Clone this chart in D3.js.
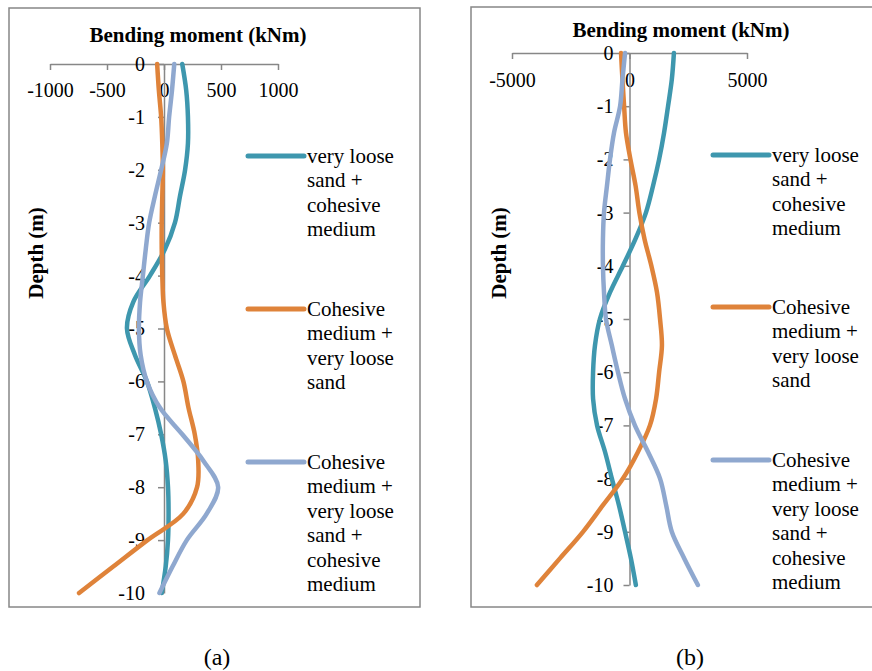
<!DOCTYPE html>
<html>
<head>
<meta charset="utf-8">
<script src="https://cdn.jsdelivr.net/npm/d3@7"></script>
<style>
  html, body { margin: 0; padding: 0; background: #fff; }
  svg { display: block; }
  text { font-family: "Liberation Serif", "Times New Roman", serif; fill: #000; }
</style>
</head>
<body>
<svg id="chart" width="872" height="671"></svg>
<script>
// ---------- DATA ----------
const depths = [0, -0.5, -1, -1.5, -2, -2.5, -3, -3.5, -4, -4.5, -5, -5.5, -6, -6.5, -7, -7.5, -8, -8.5, -9, -9.5, -10];

const seriesNames = [
  "very loose sand + cohesive medium",
  "Cohesive medium + very loose sand",
  "Cohesive medium + very loose sand + cohesive medium"
];
const legendLinesText = [
  ["very loose", "sand +", "cohesive", "medium"],
  ["Cohesive", "medium +", "very loose", "sand"],
  ["Cohesive", "medium +", "very loose", "sand +", "cohesive", "medium"]
];

// Panel (a) bending moment (kNm)
const a_vlsCm   = [160, 195, 210, 210, 185, 140, 96, 9, -123, -270, -325, -255, -150, -80, -25, 15, 35, 40, 35, 15, -20];
const a_cmVls   = [-60, -45, -25, -15, -10, -15, -20, -20, -15, -5, 25, 95, 170, 215, 270, 300, 290, 170, -145, -445, -745];
const a_cmVlsCm = [90, 70, 45, 25, -25, -80, -130, -160, -185, -210, -220, -205, -150, -35, 160, 345, 475, 375, 200, 75, -40];

// Panel (b) bending moment (kNm)
const b_vlsCm   = [1890, 1800, 1640, 1470, 1260, 1000, 700, 250, -280, -830, -1260, -1470, -1550, -1550, -1380, -1040, -750, -450, -190, 60, 270];
const b_cmVls   = [-360, -300, -230, -150, 40, 260, 420, 640, 930, 1170, 1300, 1380, 1260, 1130, 870, 360, -280, -1130, -1980, -2960, -3940];
const b_cmVlsCm = [-190, -300, -400, -660, -830, -960, -1085, -1130, -1130, -1085, -1000, -750, -490, -190, 230, 790, 1300, 1560, 1800, 2330, 2910];

const a_xTicks = [-1000, -500, 0, 500, 1000];
const b_xTicks = [-5000, 0, 5000];
const yTicks = [0, -1, -2, -3, -4, -5, -6, -7, -8, -9, -10];

const xTitle = "Bending moment (kNm)";
const yTitle = "Depth (m)";
const captions = ["(a)", "(b)"];

const colors = ["#3E97AE", "#DF833A", "#8FA8CF"];
const axisColor = "#878787";

// ---------- DRAW ----------
const svg = d3.select("#chart");
const fmt = d => String(d); // plain hyphen-minus like the original

function drawPanel(p) {
  const g = svg.append("g");
  // frame
  g.append("rect")
    .attr("x", p.frame[0]).attr("y", p.frame[1])
    .attr("width", p.frame[2]).attr("height", p.frame[3])
    .attr("fill", "#fff").attr("stroke", axisColor).attr("stroke-width", 1.5);

  const x = d3.scaleLinear().domain(p.xDomain).range(p.xRange);
  const y = d3.scaleLinear().domain([0, -10]).range(p.yRange);

  // x axis (at depth 0)
  const xa = g.append("g")
    .attr("transform", `translate(0,${y(0)})`)
    .call(d3.axisBottom(x).tickValues(p.xTicks).tickSize(6).tickSizeOuter(0).tickPadding(p.xPad)
      .tickFormat(fmt));
  xa.attr("font-family", null);
  xa.select(".domain").attr("stroke", axisColor).attr("stroke-width", 1.5);
  xa.selectAll(".tick line").attr("stroke", axisColor).attr("stroke-width", 1.5);
  xa.selectAll(".tick text").style("font-size", "20px").attr("fill", "#000");

  // y axis (at moment 0)
  const ya = g.append("g")
    .attr("transform", `translate(${x(0)},0)`)
    .call(d3.axisLeft(y).tickValues(yTicks).tickSize(6).tickSizeOuter(0).tickPadding(p.yPad)
      .tickFormat(fmt));
  ya.attr("font-family", null);
  ya.select(".domain").attr("stroke", axisColor).attr("stroke-width", 1.5);
  ya.selectAll(".tick line").attr("stroke", axisColor).attr("stroke-width", 1.5);
  ya.selectAll(".tick text").style("font-size", "20px").attr("fill", "#000");

  // titles
  g.append("text")
    .attr("x", p.titleX).attr("y", p.titleY)
    .attr("text-anchor", "middle")
    .style("font-size", "21px").style("font-weight", "bold")
    .text(xTitle);
  g.append("text")
    .attr("transform", `translate(${p.yTitleX},${p.yTitleY}) rotate(-90)`)
    .attr("text-anchor", "middle")
    .style("font-size", "21px").style("font-weight", "bold")
    .text(yTitle);

  // series lines
  const line = d3.line()
    .x(d => x(d[0]))
    .y(d => y(d[1]))
    .curve(d3.curveCatmullRom.alpha(0.5));
  p.series.forEach((vals, i) => {
    const pts = vals.map((v, k) => [v, depths[k]]);
    g.append("path")
      .datum(pts)
      .attr("d", line)
      .attr("fill", "none")
      .attr("stroke", colors[i])
      .attr("stroke-width", 4.5)
      .attr("stroke-linecap", "round")
      .attr("stroke-linejoin", "round");
  });

  // legend
  p.legendY.forEach((ly, i) => {
    g.append("line")
      .attr("x1", p.legendX).attr("x2", p.legendX + 56)
      .attr("y1", ly).attr("y2", ly)
      .attr("stroke", colors[i]).attr("stroke-width", 5).attr("stroke-linecap", "round");
    const t = g.append("text")
      .attr("x", p.legendX + 59).attr("y", ly + 6.5)
      .style("font-size", "21px");
    legendLinesText[i].forEach((s, j) => {
      t.append("tspan").attr("x", p.legendX + 59).attr("dy", j === 0 ? 0 : 24.5).text(s);
    });
  });

  // caption
  svg.append("text")
    .attr("x", p.captionX).attr("y", 665)
    .attr("text-anchor", "middle")
    .style("font-size", "24px")
    .text(p.caption);
}

drawPanel({
  frame: [9, 8, 411, 599],
  xDomain: [-1000, 1000], xRange: [50, 278],
  yRange: [64, 593],
  xTicks: a_xTicks, xPad: 13, yPad: 13,
  titleX: 198, titleY: 42,
  yTitleX: 43, yTitleY: 253,
  series: [a_vlsCm, a_cmVls, a_cmVlsCm],
  legendX: 248, legendY: [156, 309, 462],
  captionX: 217, caption: captions[0]
});

drawPanel({
  frame: [471, 7, 420, 600],
  xDomain: [-5000, 5000], xRange: [512, 747],
  yRange: [53, 585],
  xTicks: b_xTicks, xPad: 14, yPad: 10,
  titleX: 681, titleY: 37,
  yTitleX: 506, yTitleY: 253,
  series: [b_vlsCm, b_cmVls, b_cmVlsCm],
  legendX: 713, legendY: [155, 307, 460],
  captionX: 690, caption: captions[1]
});
</script>
</body>
</html>
